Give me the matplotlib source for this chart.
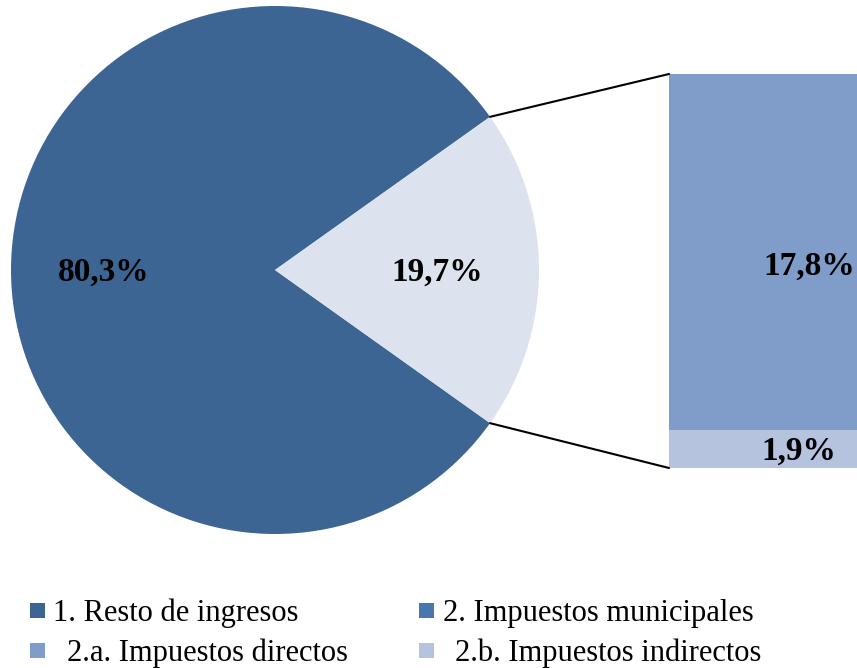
import matplotlib
matplotlib.use("Agg")
import matplotlib.pyplot as plt
from matplotlib.patches import ConnectionPatch, Rectangle
import numpy as np

plt.rcParams['font.family'] = ['Liberation Serif', 'DejaVu Serif']

pie_labels = ["1. Resto de ingresos", "2. Impuestos municipales"]
pie_values = [80.3, 19.7]
pie_texts = ["80,3%", "19,7%"]
pie_colors = ["#3D6594", "#DCE2EE"]

bar_labels = ["2.a. Impuestos directos", "2.b. Impuestos indirectos"]
bar_values = [17.8, 1.9]
bar_texts = ["17,8%", "1,9%"]
bar_colors = ["#7F9DC8", "#B5C3DF"]
legend_mid_color = "#4A76AE"

W, H = 857, 668
fig = plt.figure(figsize=(W / 100, H / 100), dpi=100)

def px_axes(x0, y0, x1, y1):
    return fig.add_axes([x0 / W, 1 - y1 / H, (x1 - x0) / W, (y1 - y0) / H])

# Pie
cx, cy, r = 275, 270, 264
ax1 = px_axes(cx - r, cy - r, cx + r, cy + r)
start = pie_values[1] / 2 * 3.6
wedges, _ = ax1.pie(pie_values, colors=pie_colors, startangle=start, radius=1,
                    wedgeprops=dict(linewidth=0))
ax1.set_xlim(-1, 1)
ax1.set_ylim(-1, 1)
ax1.set_aspect('equal')
ax1.axis('off')
lab_fs = 24
ax1.text(-0.65, -0.01, pie_texts[0], ha='center', va='center', fontsize=lab_fs, fontweight='bold')
ax1.text(0.615, -0.01, pie_texts[1], ha='center', va='center', fontsize=lab_fs, fontweight='bold')

# Bar
ax2 = px_axes(669, 74, 857, 468)
bottom = 0
for v, c in zip(reversed(bar_values), reversed(bar_colors)):
    ax2.bar(0, v, bottom=bottom, width=1, color=c, linewidth=0)
    bottom += v
ax2.set_xlim(-0.5, 0.5)
ax2.set_ylim(0, sum(bar_values))
ax2.axis('off')
ax2.text(0.49, sum(bar_values) / 2 + 0.25, bar_texts[0], ha='right', va='center',
         fontsize=lab_fs, fontweight='bold')
ax2.text(0.39, bar_values[1] / 2 - 0.1, bar_texts[1], ha='right', va='center',
         fontsize=lab_fs, fontweight='bold')

# Connection lines
theta = np.deg2rad(start)
for sign, ytarget in [(1, sum(bar_values)), (-1, 0)]:
    con = ConnectionPatch(xyA=(np.cos(theta), sign * np.sin(theta)), coordsA=ax1.transData,
                          xyB=(-0.5, ytarget), coordsB=ax2.transData,
                          color='black', linewidth=1.5)
    fig.add_artist(con)

# Legend (manual)
leg_items = [
    (pie_colors[0], pie_labels[0], 30, 603, 53),
    (legend_mid_color, pie_labels[1], 419, 603, 443),
    (bar_colors[0], bar_labels[0], 30, 643, 67),
    (bar_colors[1], bar_labels[1], 419, 643, 455),
]
for color, text, mx, my, tx in leg_items:
    fig.add_artist(Rectangle((mx / W, 1 - (my + 15) / H), 15 / W, 15 / H,
                             transform=fig.transFigure, color=color, linewidth=0))
    fig.text(tx / W, 1 - (my + 18) / H, text, ha='left', va='baseline', fontsize=22)

fig.savefig("out.png", dpi=100)
